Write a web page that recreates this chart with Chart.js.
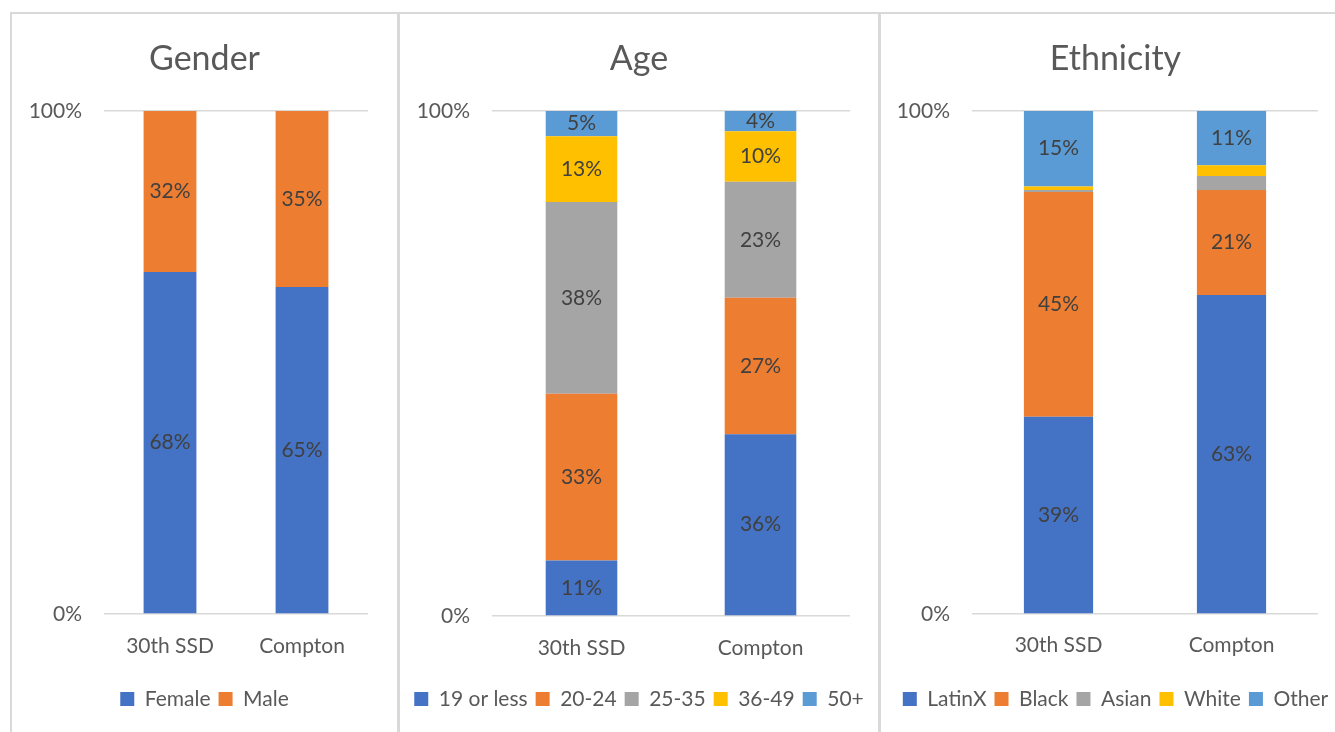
<!DOCTYPE html>
<html>
<head>
<meta charset="utf-8">
<script src="https://cdn.jsdelivr.net/npm/chart.js@4"></script>
<style>
    html, body { margin: 0; padding: 0; background: #fff; overflow: hidden; width: 1335px; height: 732px; }
    .linha { position: absolute; background: #d9d9d9; }
    canvas { position: absolute; top: 14px; }
</style>
</head>
<body>
<div class="linha" style="left:10px; top:12px; width:1325px; height:2px;"></div>
<div class="linha" style="left:10px; top:12px; width:2px; height:720px;"></div>
<div class="linha" style="left:397px; top:12px; width:3px; height:720px;"></div>
<div class="linha" style="left:878px; top:12px; width:3px; height:720px;"></div>
<canvas id="gender" width="385" height="718" style="left:12px;"></canvas>
<canvas id="age" width="478" height="718" style="left:400px;"></canvas>
<canvas id="ethnicity" width="469" height="718" style="left:881px;"></canvas>
<script>
const categorias = ['30th SSD', 'Compton'];

const genderSeries = ['Female', 'Male'];
const genderFemale = [68, 65];
const genderMale = [32, 35];

const ageSeries = ['19 or less', '20-24', '25-35', '36-49', '50+'];
const age19 = [11, 36];
const age2024 = [33, 27];
const age2535 = [38, 23];
const age3649 = [13, 10];
const age50 = [5, 4];

const ethnicitySeries = ['LatinX', 'Black', 'Asian', 'White', 'Other'];
const latinx = [39.2, 63.4];
const black = [44.7, 20.9];
const asian = [0.4, 2.8];
const white = [0.7, 2.1];
const other = [15.0, 10.8];

const yTicks = [0, 100];

const cores = ['#4472C4', '#ED7D31', '#A5A5A5', '#FFC000', '#5B9BD5'];
const fonte = 'Lato';

const rotulosPlugin = {
    id: 'rotulos',
    afterDatasetsDraw(chart) {
        const ctx = chart.ctx;
        ctx.save();
        ctx.font = '21px ' + fonte;
        ctx.fillStyle = '#404040';
        ctx.textAlign = 'center';
        ctx.textBaseline = 'middle';
        chart.data.datasets.forEach((ds, i) => {
            chart.getDatasetMeta(i).data.forEach((bar, j) => {
                const v = ds.data[j];
                if (v < 4) return;
                ctx.fillText(Math.round(v) + '%', bar.x, (bar.y + bar.base) / 2);
            });
        });
        ctx.restore();
    }
};

function criarGrafico(id, titulo, nomes, series, opts) {
    const ctx = document.getElementById(id).getContext('2d');
    return new Chart(ctx, {
        type: 'bar',
        data: {
            labels: categorias,
            datasets: series.map((dados, i) => ({
                label: nomes[i],
                data: dados,
                backgroundColor: cores[i],
                borderWidth: 0,
                categoryPercentage: 1,
                barPercentage: 0.4
            }))
        },
        options: {
            responsive: false,
            animation: false,
            layout: {
                padding: { left: 0, right: 0, top: 0, bottom: 12.5 }
            },
            plugins: {
                tooltip: { enabled: false },
                title: {
                    display: true,
                    text: titulo,
                    color: '#595959',
                    font: { family: fonte, size: 34, weight: 'normal' },
                    padding: { top: 24.6, bottom: 31.6 }
                },
                legend: {
                    position: 'bottom',
                    labels: {
                        color: '#595959',
                        boxWidth: 14,
                        boxHeight: 14,
                        padding: 8,
                        font: { family: fonte, size: 21 }
                    }
                }
            },
            scales: {
                x: {
                    stacked: true,
                    grid: { display: false },
                    border: { display: false },
                    ticks: {
                        color: '#595959',
                        padding: opts.xPadding,
                        font: { family: fonte, size: 21 }
                    },
                    afterFit: scale => { scale.height = opts.xAltura; }
                },
                y: {
                    stacked: true,
                    min: yTicks[0],
                    max: yTicks[yTicks.length - 1],
                    afterBuildTicks: scale => { scale.ticks = yTicks.map(v => ({ value: v })); },
                    grid: { color: '#d9d9d9', lineWidth: 1.5, drawTicks: false },
                    border: { display: false },
                    ticks: {
                        color: '#595959',
                        padding: 22,
                        font: { family: fonte, size: 21 },
                        callback: v => v + '%'
                    },
                    afterFit: scale => { scale.width = opts.esquerda; }
                },
                margem: {
                    type: 'linear',
                    position: 'right',
                    grid: { display: false },
                    border: { display: false },
                    ticks: { display: false },
                    afterFit: scale => { scale.width = opts.direita; }
                }
            }
        },
        plugins: [rotulosPlugin]
    });
}

criarGrafico('gender', 'Gender', genderSeries, [genderFemale, genderMale],
    { esquerda: 92, direita: 29, xAltura: 66.5, xPadding: 11.4 });
criarGrafico('age', 'Age', ageSeries, [age19, age2024, age2535, age3649, age50],
    { esquerda: 92, direita: 28, xAltura: 64.5, xPadding: 11.4 });
criarGrafico('ethnicity', 'Ethnicity', ethnicitySeries, [latinx, black, asian, white, other],
    { esquerda: 91, direita: 32, xAltura: 66.5, xPadding: 10.4 });
</script>
</body>
</html>
